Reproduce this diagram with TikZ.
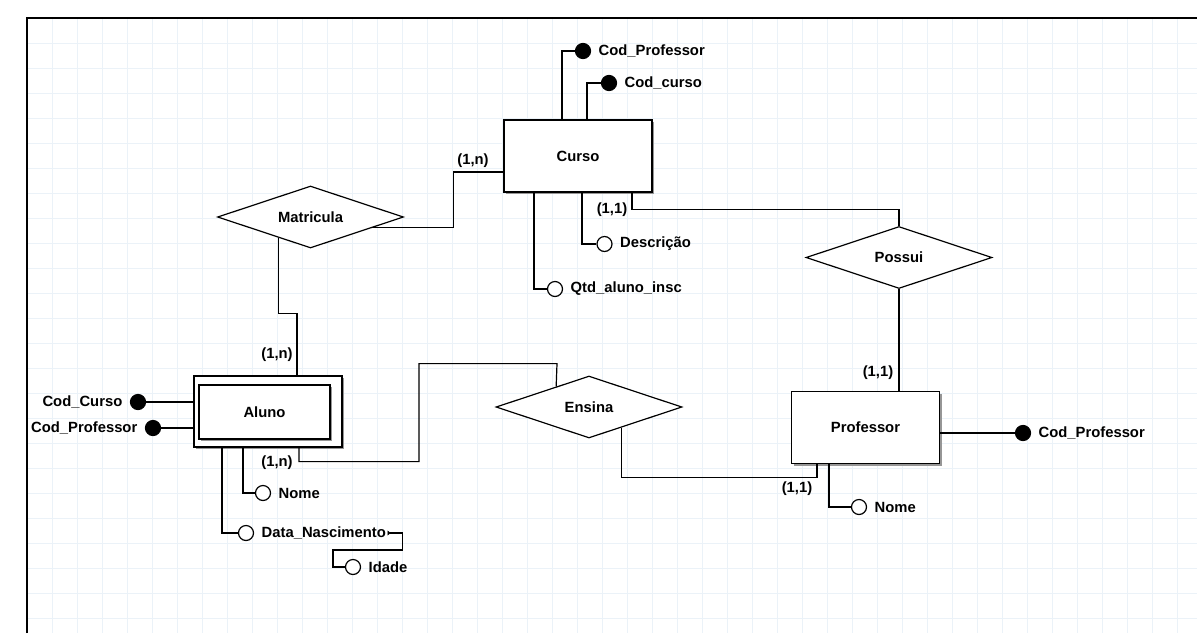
\documentclass[tikz,border=0pt]{standalone}
\usepackage{fontspec}
\setmainfont{Liberation Sans}
\usetikzlibrary{positioning,shapes.geometric,shadows,arrows.meta}
\definecolor{gridblue}{RGB}{235,242,248}
\definecolor{shadowgray}{RGB}{150,150,150}

\begin{document}
\begin{tikzpicture}[x=1pt, y=-1pt, line width=1.2pt,
    font=\fontsize{14.8}{17}\selectfont\bfseries,
    entity/.style = {draw, fill=white, minimum width=148pt, minimum height=72pt,
      drop shadow={shadow xshift=2pt, shadow yshift=-2pt, fill=shadowgray, opacity=1}},
    relation/.style = {draw, fill=white, diamond, aspect=3, inner sep=0pt,
      minimum width=186pt, minimum height=62pt},
    keyattr/.style = {draw, fill=black, circle, inner sep=0pt, minimum size=15pt},
    attr/.style = {draw, fill=white, circle, inner sep=0pt, minimum size=15pt},
    txt/.style = {inner sep=1pt},
    gridline/.style = {draw=gridblue, line width=1pt}]
    \useasboundingbox (0,0) rectangle (1197,633);
    \fill[white] (0,0) rectangle (1197,633);
    % grid
    \foreach \gx in {0,...,46} \draw[gridline] ({27.7+25*\gx},18) -- ++(0,615);
    \foreach \gy in {1,...,24} \draw[gridline] (27,{18+25*\gy}) -- ++(1170,0);
    \draw[line width=2pt] (27,633) -- (27,18) -- (1197,18);

    % entities
    \node[entity] (curso) at (578,156) {Curso};
    \node[entity] (professor) at (865.5,427.5) {Professor};
    \node[entity, minimum height=71pt] (aluno) at (268,411.5) {};
    \node[entity, minimum width=131pt, minimum height=54pt] (alunoin) at (264.5,412) {Aluno};

    % relationships
    \node[relation] (matricula) at (310.5,217) {Matricula};
    \node[relation] (possui) at (899,257.5) {Possui};
    \node[relation] (ensina) at (589,407) {Ensina};

    % attributes of Curso
    \node[keyattr] (cursocp) at (583,51) {};
    \node[txt, right=6pt of cursocp] (cursocptxt) {Cod\_Professor};
    \node[keyattr] (cursocc) at (609,83) {};
    \node[txt, right=6pt of cursocc] (cursocctxt) {Cod\_curso};
    \node[attr] (desc) at (604.5,244) {};
    \node[txt, right=6pt of desc] (desctxt) {Descrição};
    \node[attr] (qtd) at (555,289) {};
    \node[txt, right=6pt of qtd] (qtdtxt) {Qtd\_aluno\_insc};

    % attributes of Aluno
    \node[keyattr] (alunocc) at (138,402) {};
    \node[txt, left=6pt of alunocc] (alunocctxt) {Cod\_Curso};
    \node[keyattr] (alunocp) at (153,428) {};
    \node[txt, left=6pt of alunocp] (alunocptxt) {Cod\_Professor};
    \node[attr] (alunonome) at (263,493) {};
    \node[txt, right=6pt of alunonome] (alunonometxt) {Nome};
    \node[attr] (nasc) at (246,533) {};
    \node[txt, right=6pt of nasc] (nasctxt) {Data\_Nascimento};
    \node[attr] (idade) at (353,567) {};
    \node[txt, right=6pt of idade] (idadetxt) {Idade};

    % attributes of Professor
    \node[keyattr] (profcp) at (1023,433) {};
    \node[txt, right=6pt of profcp] (profcptxt) {Cod\_Professor};
    \node[attr] (profnome) at (859,507) {};
    \node[txt, right=6pt of profnome] (profnometxt) {Nome};

    % cardinalities
    \node[txt] (card1) at (473,161) {(1,n)};
    \node[txt] (card2) at (612,210) {(1,1)};
    \node[txt] (card3) at (277,355) {(1,n)};
    \node[txt] (card4) at (277,463) {(1,n)};
    \node[txt] (card5) at (878,373) {(1,1)};
    \node[txt] (card6) at (797,489) {(1,1)};

    % connectors
    \draw ([xshift=-16pt]curso.north) |- (cursocp);
    \draw ([xshift=9pt]curso.north) |- (cursocc);
    \draw ([xshift=4pt]curso.south) |- (desc);
    \draw ([xshift=-44pt]curso.south) |- (qtd);
    \draw ([yshift=-16pt]curso.west) -- ++(-50,0) |- (matricula.-10);
    \draw (matricula.213) -- ++(0,76) -| ([xshift=29pt]aluno.north);
    \draw ([xshift=54pt]curso.south) -- ++(0,17) -| (possui.north);
    \draw (possui.south) -- (possui.south |- professor.north);
    \draw ([xshift=-48.5pt]professor.south) -- ++(0,13) -| (ensina.-32);
    \draw ([xshift=31pt]aluno.south) |- ++(120,14) |- ++(138,-98) -- (ensina.148);
    \draw (alunocc) -- (alunocc -| aluno.west);
    \draw (alunocp) -- (alunocp -| aluno.west);
    \draw ([xshift=-25pt]aluno.south) |- (alunonome);
    \draw ([xshift=-46pt]aluno.south) |- (nasc);
    \draw[{Triangle[reversed, length=3pt, width=5pt]}-] (nasctxt.east) -| ++(15,17)
      -| ([xshift=-20pt]idade.center) -- (idade);
    \draw (profcp) -- (profcp -| professor.east);
    \draw ([xshift=-36.5pt]professor.south) |- (profnome);
\end{tikzpicture}
\end{document}
